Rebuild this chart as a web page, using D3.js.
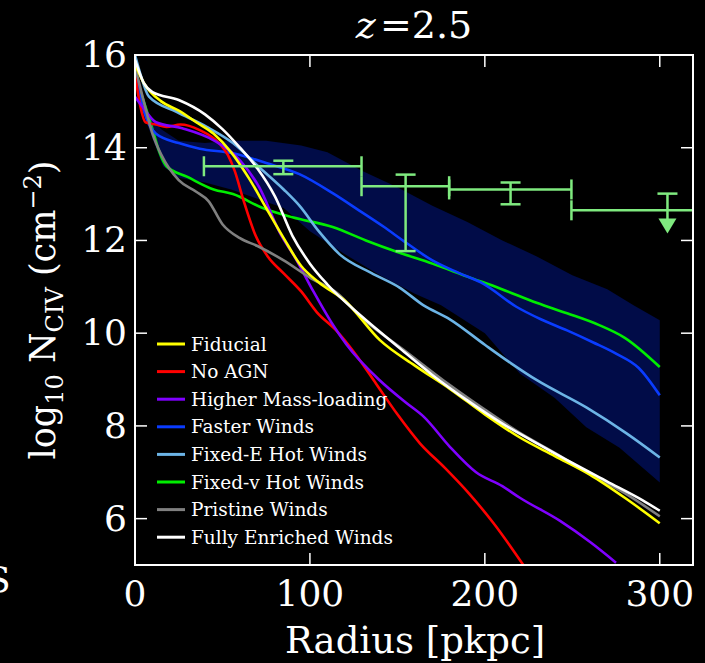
<!DOCTYPE html>
<html>
<head>
<meta charset="utf-8">
<title>CIV column density profiles</title>
<style>
  body { margin: 0; background: #000; }
  svg { display: block; }
  text { font-family: "DejaVu Serif", serif; fill: #fff; }
</style>
</head>
<body>
<svg width="705" height="663"></svg>
<script src="https://d3js.org/d3.v7.min.js"></script>
<script>
// curve data: [radius pkpc, log10 N_CIV]
var fiducial = [[0,15.8],[5,15.4],[15,15.0],[25,14.8],[35,14.55],[45,14.3],[55,13.9],[65,13.35],[75,12.7],[85,12.05],[95,11.45],[105,11.1],[120,10.7],[140,9.85],[160,9.3],[180,8.8],[200,8.25],[220,7.75],[240,7.35],[260,6.95],[280,6.45],[300,5.9]];
var noAGN = [[0,15.6],[3,14.9],[6,14.55],[12,14.5],[18,14.45],[26,14.5],[37,14.38],[48,14.1],[53,13.85],[57,13.5],[62,12.87],[69,12.1],[76,11.65],[85,11.29],[95,10.9],[104,10.45],[115,10.06],[125,9.6],[138,8.9],[150,8.25],[163,7.62],[177,7.1],[191,6.54],[205,5.9],[222,5.0]];
var massLoading = [[0,15.1],[5,14.85],[12,14.55],[27,14.42],[45,14.16],[60,13.73],[71,13.15],[83,12.15],[92,11.6],[102,10.9],[112,10.25],[121,9.75],[140,8.98],[155,8.5],[165,8.2],[180,7.55],[195,7.0],[210,6.7],[220,6.45],[243,5.95],[260,5.5],[275,5.05]];
var fasterWinds = [[0,15.6],[5,14.8],[12,14.3],[25,14.1],[37,13.98],[56,13.88],[75,13.67],[94,13.43],[113,13.02],[128,12.65],[142,12.3],[155,11.95],[170,11.57],[185,11.3],[199,11.07],[218,10.57],[232,10.3],[247,10.06],[262,9.8],[275,9.56],[288,9.25],[300,8.66]];
var fixedE = [[0,16.0],[3,15.6],[8,15.1],[24,14.77],[41,14.45],[56,14.1],[71,13.58],[85,13.1],[94,12.75],[105,12.2],[117,11.7],[135,11.3],[151,10.99],[165,10.6],[180,10.3],[200,9.75],[215,9.35],[230,8.98],[258,8.4],[281,7.84],[300,7.32]];
var fixedV = [[0,15.55],[5,15.0],[10,14.4],[14,13.9],[18,13.6],[30,13.37],[45,13.1],[56,13.0],[73,12.7],[90,12.5],[113,12.29],[132,12.0],[150,11.75],[170,11.5],[190,11.22],[209,10.96],[230,10.65],[247,10.43],[265,10.18],[280,9.9],[300,9.27]];
var pristine = [[0,15.75],[5,15.0],[10,14.3],[15,13.85],[25,13.3],[35,13.05],[42,12.85],[50,12.35],[60,12.05],[70,11.88],[85,11.57],[100,11.2],[115,10.88],[130,10.32],[155,9.6],[180,8.88],[200,8.35],[220,7.85],[240,7.42],[260,6.97],[280,6.55],[300,6.05]];
var fullyEnriched = [[0,15.9],[5,15.4],[10,15.2],[25,15.03],[40,14.72],[50,14.4],[60,14.0],[70,13.55],[80,12.95],[90,12.1],[100,11.5],[110,11.05],[130,10.35],[150,9.72],[170,9.1],[190,8.55],[210,8.05],[230,7.62],[250,7.2],[270,6.8],[290,6.4],[300,6.17]];

// shaded scatter band around the fiducial runs
var bandTop = [[3,14.9],[7,14.75],[15,14.4],[25,14.15],[40,14.1],[55,14.15],[75,14.15],[95,14.05],[110,13.9],[130,13.5],[150,13.15],[170,12.75],[190,12.4],[210,12.0],[230,11.65],[250,11.25],[270,10.95],[285,10.6],[300,10.28]];
var bandBottom = [[3,14.9],[7,14.5],[12,14.0],[16,13.6],[25,13.35],[40,13.25],[55,13.1],[70,12.9],[85,12.7],[100,12.2],[120,11.7],[140,11.25],[160,10.85],[175,10.6],[200,10.0],[220,9.13],[240,8.6],[258,7.97],[277,7.53],[300,6.78]];

// observations: x, xlo, xhi, y, ylo, yhi
var obsX   = [84.8, 154.7, 214.7, 304.4];
var obsXlo = [39.4, 129.5, 179.6, 249.5];
var obsXhi = [129.5, 179.6, 249.5, 340];
var obsY   = [13.6, 13.17, 13.1, 12.65];
var obsYlo = [13.43, 11.77, 12.78, 12.4];
var obsYhi = [13.72, 13.42, 13.25, 13.01];
var obsUpper = [false, false, false, true];

var seriesNames = ["Fiducial", "No AGN", "Higher Mass-loading", "Faster Winds", "Fixed-E Hot Winds", "Fixed-v Hot Winds", "Pristine Winds", "Fully Enriched Winds"];
var seriesColors = ["#ffff00", "#ff0000", "#8000ff", "#0a3cff", "#6cb4e6", "#00ee00", "#808080", "#ffffff"];
var seriesData = [fiducial, noAGN, massLoading, fasterWinds, fixedE, fixedV, pristine, fullyEnriched];
// draw order (back to front)
var drawOrder = [5, 3, 4, 1, 2, 6, 0, 7];

var xTicks = [0, 100, 200, 300];
var yTicks = [6, 8, 10, 12, 14, 16];

var svg = d3.select("svg");
var m = {left: 135, top: 55, right: 693, bottom: 565};

var x = d3.scaleLinear().domain([0, 319]).range([m.left, m.right]);
var y = d3.scaleLinear().domain([5, 16]).range([m.bottom, m.top]);

svg.append("defs").append("clipPath").attr("id", "plotclip")
  .append("rect")
    .attr("x", m.left).attr("y", m.top)
    .attr("width", m.right - m.left).attr("height", m.bottom - m.top);

var plot = svg.append("g").attr("clip-path", "url(#plotclip)");

// band
var bandPoly = bandTop.concat(bandBottom.slice().reverse());
plot.append("path")
    .attr("d", d3.line().x(function(d) { return x(d[0]); }).y(function(d) { return y(d[1]); }).curve(d3.curveLinearClosed)(bandPoly))
    .attr("fill", "#010c48");

var line = d3.line()
    .x(function(d) { return x(d[0]); })
    .y(function(d) { return y(d[1]); })
    .curve(d3.curveMonotoneX);

drawOrder.forEach(function(i) {
  plot.append("path")
      .attr("d", line(seriesData[i]))
      .attr("fill", "none")
      .attr("stroke", seriesColors[i])
      .attr("stroke-width", 2.6)
      .attr("stroke-linejoin", "round");
});

// observational points
var obsColor = "#7fea7f";
var obs = plot.append("g").attr("stroke", obsColor).attr("stroke-width", 2.5).attr("fill", "none");
obsX.forEach(function(cx, i) {
  var cy = y(obsY[i]);
  obs.append("line").attr("x1", x(obsXlo[i])).attr("x2", x(obsXhi[i])).attr("y1", cy).attr("y2", cy);
  [obsXlo[i], obsXhi[i]].forEach(function(v) {
    obs.append("line").attr("x1", x(v)).attr("x2", x(v)).attr("y1", cy - 10).attr("y2", cy + 10);
  });
  var top = y(obsYhi[i]);
  if (obsUpper[i]) {
    var tip = y(12.15);
    obs.append("line").attr("x1", x(cx)).attr("x2", x(cx)).attr("y1", top).attr("y2", tip - 12);
    obs.append("line").attr("x1", x(cx) - 10).attr("x2", x(cx) + 10).attr("y1", top).attr("y2", top);
    obs.append("path")
        .attr("d", "M" + (x(cx) - 9) + "," + (tip - 15) + "L" + (x(cx) + 9) + "," + (tip - 15) + "L" + x(cx) + "," + tip + "Z")
        .attr("fill", obsColor).attr("stroke", "none");
  } else {
    var bot = y(obsYlo[i]);
    obs.append("line").attr("x1", x(cx)).attr("x2", x(cx)).attr("y1", top).attr("y2", bot);
    [top, bot].forEach(function(v) {
      obs.append("line").attr("x1", x(cx) - 10).attr("x2", x(cx) + 10).attr("y1", v).attr("y2", v);
    });
  }
});

// frame and ticks
svg.append("rect")
    .attr("x", m.left).attr("y", m.top)
    .attr("width", m.right - m.left).attr("height", m.bottom - m.top)
    .attr("fill", "none").attr("stroke", "#fff").attr("stroke-width", 2);

var tickLen = 12;
var ticks = svg.append("g").attr("stroke", "#fff").attr("stroke-width", 1.5);
xTicks.forEach(function(t) {
  ticks.append("line").attr("x1", x(t)).attr("x2", x(t)).attr("y1", m.bottom).attr("y2", m.bottom - tickLen);
  ticks.append("line").attr("x1", x(t)).attr("x2", x(t)).attr("y1", m.top).attr("y2", m.top + tickLen);
  svg.append("text").attr("x", x(t)).attr("y", 606)
      .attr("text-anchor", "middle").attr("font-size", 36).text(t);
});
yTicks.forEach(function(t) {
  ticks.append("line").attr("x1", m.left).attr("x2", m.left + tickLen).attr("y1", y(t)).attr("y2", y(t));
  ticks.append("line").attr("x1", m.right).attr("x2", m.right - tickLen).attr("y1", y(t)).attr("y2", y(t));
  svg.append("text").attr("x", 127).attr("y", y(t) + 12)
      .attr("text-anchor", "end").attr("font-size", 36).text(t);
});

// axis labels
svg.append("text").attr("x", 415).attr("y", 653)
    .attr("text-anchor", "middle").attr("font-size", 37).text("Radius [pkpc]");

var yl = svg.append("text")
    .attr("transform", "translate(55,310) rotate(-90)")
    .attr("text-anchor", "middle").attr("font-size", 35);
yl.append("tspan").text("log");
yl.append("tspan").attr("font-size", 24).attr("dy", 8).text("10");
yl.append("tspan").attr("dy", -8).text(" N");
yl.append("tspan").attr("font-size", 24).attr("dy", 8).text("CIV");
yl.append("tspan").attr("dy", -8).text(" (cm");
yl.append("tspan").attr("font-size", 24).attr("dy", -14).text("\u22122");
yl.append("tspan").attr("dy", 14).text(")");

// title
var title = svg.append("text").attr("x", 414).attr("y", 38)
    .attr("text-anchor", "middle").attr("font-size", 38);
title.append("tspan").attr("font-style", "italic").text("z");
title.append("tspan").attr("dx", 4).text("=2.5");

// stray glyph cut by the left edge
svg.append("text").attr("x", -14).attr("y", 592).attr("font-size", 36).text("S");

// legend
var legend = svg.append("g");
seriesNames.forEach(function(name, i) {
  var ly = 344 + i * 27.6;
  legend.append("line").attr("x1", 157).attr("x2", 185).attr("y1", ly).attr("y2", ly)
      .attr("stroke", seriesColors[i]).attr("stroke-width", 3);
  legend.append("text").attr("x", 191).attr("y", ly + 6.5)
      .attr("font-size", 18.5).text(name);
});
</script>
</body>
</html>
